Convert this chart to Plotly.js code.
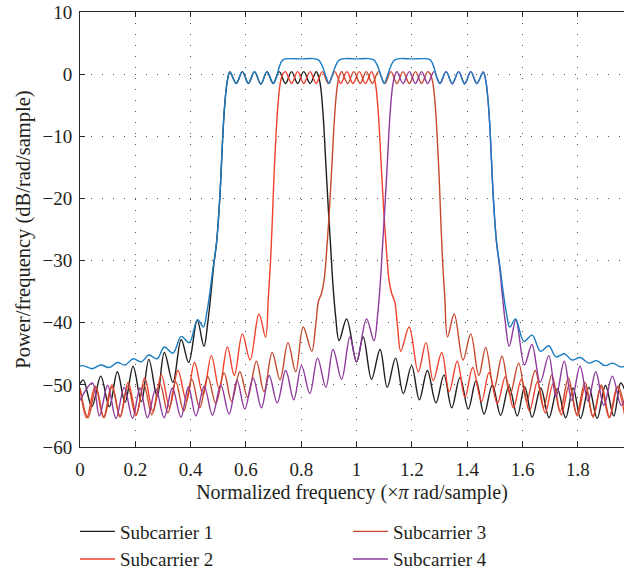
<!DOCTYPE html>
<html>
<head>
<meta charset="utf-8">
<script src="https://cdn.plot.ly/plotly-3.0.1.min.js"></script>
<style>html,body{margin:0;padding:0;background:#fff;}#chart{width:624px;height:574px;}</style>
</head>
<body>
<div id="chart"></div>
<script>
// ---- data ----
var seriesNames = ['Subcarrier 1', 'Subcarrier 2', 'Subcarrier 3', 'Subcarrier 4'];

var sc1X = [0, 0.012, 0.043, 0.075, 0.106, 0.135, 0.163, 0.192, 0.222, 0.249, 0.279, 0.305, 0.336, 0.366, 0.393, 0.424, 0.448, 0.462, 0.473, 0.483, 0.494, 0.505, 0.512, 0.518, 0.525, 0.533, 0.542, 0.565, 0.587, 0.609, 0.631, 0.654, 0.676, 0.698, 0.72, 0.743, 0.765, 0.787, 0.809, 0.832, 0.854, 0.862, 0.870, 0.879, 0.889, 0.899, 0.907, 0.914, 0.924, 0.937, 0.964, 1.0, 1.024, 1.054, 1.085, 1.111, 1.141, 1.169, 1.199, 1.227, 1.256, 1.287, 1.316, 1.344, 1.374, 1.404, 1.432, 1.461, 1.491, 1.521, 1.551, 1.581, 1.608, 1.635, 1.666, 1.696, 1.726, 1.756, 1.783, 1.81, 1.84, 1.87, 1.90, 1.93, 1.955, 1.975];
var sc1Y = [-49.8, -49.2, -53.5, -48.6, -53.5, -47.9, -52.8, -47.0, -52.7, -45.9, -51.9, -44.8, -49.6, -42.7, -46.4, -39.6, -43.8, -40.0, -35.5, -31.0, -27.0, -20.3, -14.0, -8.5, -4.0, -1.0, 0.35, -1.5, 0.4, -1.5, 0.4, -1.6, 0.4, -1.5, 0.4, -1.5, 0.4, -1.5, 0.4, -1.5, 0.4, -0.3, -2.0, -6.5, -14.5, -22.5, -28.3, -33.5, -38.8, -42.9, -39.4, -46.3, -42.3, -49.1, -44.3, -50.4, -45.7, -51.4, -46.9, -52.4, -47.7, -52.9, -48.4, -53.7, -48.8, -53.9, -49.3, -54.7, -50.0, -54.9, -50.2, -55.0, -50.3, -55.2, -50.5, -55.3, -50.6, -55.3, -50.5, -55.4, -50.4, -55.4, -50.1, -55.0, -49.7, -51.5];

var sc2X = [0, 0.024, 0.055, 0.085, 0.115, 0.145, 0.174, 0.204, 0.234, 0.264, 0.294, 0.324, 0.354, 0.385, 0.414, 0.445, 0.475, 0.503, 0.533, 0.558, 0.587, 0.615, 0.647, 0.671, 0.681, 0.689, 0.695, 0.701, 0.709, 0.717, 0.725, 0.733, 0.743, 0.765, 0.787, 0.809, 0.832, 0.854, 0.876, 0.898, 0.921, 0.943, 0.965, 0.987, 1.01, 1.032, 1.054, 1.062, 1.070, 1.079, 1.089, 1.099, 1.109, 1.117, 1.127, 1.138, 1.148, 1.160, 1.19, 1.223, 1.251, 1.277, 1.308, 1.335, 1.364, 1.392, 1.42, 1.452, 1.479, 1.509, 1.538, 1.567, 1.596, 1.625, 1.654, 1.682, 1.711, 1.74, 1.769, 1.798, 1.827, 1.855, 1.884, 1.913, 1.942, 1.971];
var sc2Y = [-50.5, -55.3, -50.2, -55.2, -50.0, -55.0, -49.6, -54.7, -48.9, -54.3, -48.4, -53.6, -47.7, -52.6, -46.4, -51.6, -45.3, -50.6, -43.9, -48.5, -41.8, -46.0, -38.6, -42.3, -36.0, -30.0, -24.0, -17.0, -9.6, -4.2, -1.2, 0.0, 0.4, -1.5, 0.4, -1.5, 0.4, -1.5, 0.4, -1.5, 0.4, -1.5, 0.4, -1.5, 0.4, -1.5, 0.4, -0.3, -2.0, -6.5, -14.5, -22.5, -29.0, -33.0, -35.3, -36.6, -40.5, -44.6, -40.7, -47.9, -43.2, -49.3, -44.8, -51.1, -46.2, -52.0, -47.2, -52.7, -48.0, -53.0, -48.7, -53.7, -49.1, -54.2, -49.5, -54.5, -49.8, -54.8, -50.0, -55.0, -50.2, -55.2, -50.3, -55.3, -50.4, -55.3];

var sc3X = [0, 0.029, 0.058, 0.087, 0.116, 0.145, 0.173, 0.202, 0.231, 0.26, 0.289, 0.318, 0.346, 0.375, 0.404, 0.433, 0.462, 0.491, 0.521, 0.548, 0.578, 0.606, 0.638, 0.665, 0.695, 0.723, 0.752, 0.78, 0.807, 0.838, 0.852, 0.862, 0.873, 0.883, 0.891, 0.901, 0.911, 0.921, 0.930, 0.938, 0.946, 0.968, 0.99, 1.013, 1.035, 1.057, 1.079, 1.102, 1.124, 1.146, 1.168, 1.191, 1.213, 1.235, 1.257, 1.267, 1.275, 1.283, 1.291, 1.299, 1.305, 1.311, 1.319, 1.329, 1.353, 1.385, 1.413, 1.442, 1.467, 1.497, 1.526, 1.555, 1.586, 1.615, 1.646, 1.676, 1.706, 1.736, 1.766, 1.796, 1.826, 1.855, 1.885, 1.915, 1.945, 1.976];
var sc3Y = [-50.5, -55.3, -50.4, -55.3, -50.3, -55.2, -50.2, -55.0, -50.0, -54.8, -49.8, -54.5, -49.5, -54.2, -49.1, -53.7, -48.7, -53.0, -48.1, -52.7, -47.9, -52.0, -46.2, -51.1, -44.8, -49.2, -43.2, -47.9, -40.7, -44.6, -40.5, -36.6, -35.3, -33.0, -29.0, -22.5, -14.5, -6.5, -2.0, -0.3, 0.4, -1.5, 0.4, -1.5, 0.4, -1.5, 0.4, -1.5, 0.4, -1.5, 0.4, -1.5, 0.4, -1.5, 0.4, 0.0, -1.2, -4.2, -9.6, -17.0, -24.0, -30.0, -36.0, -42.3, -38.6, -46.0, -41.8, -48.5, -44.0, -50.6, -45.4, -51.6, -46.5, -52.6, -47.7, -53.6, -48.4, -54.3, -48.9, -54.7, -49.6, -55.0, -50.0, -55.2, -50.2, -55.3];

var sc4X = [0, 0.045, 0.07, 0.10, 0.13, 0.16, 0.19, 0.217, 0.244, 0.274, 0.304, 0.334, 0.365, 0.392, 0.419, 0.449, 0.479, 0.509, 0.539, 0.568, 0.596, 0.626, 0.656, 0.684, 0.713, 0.744, 0.773, 0.801, 0.831, 0.859, 0.889, 0.915, 0.946, 0.976, 1.0, 1.036, 1.063, 1.076, 1.086, 1.093, 1.101, 1.111, 1.121, 1.130, 1.138, 1.146, 1.168, 1.191, 1.213, 1.235, 1.257, 1.28, 1.302, 1.324, 1.346, 1.369, 1.391, 1.413, 1.435, 1.458, 1.467, 1.475, 1.482, 1.488, 1.495, 1.506, 1.517, 1.527, 1.538, 1.552, 1.576, 1.607, 1.634, 1.664, 1.695, 1.721, 1.751, 1.778, 1.808, 1.837, 1.865, 1.894, 1.925, 1.957, 1.988];
var sc4Y = [-52.5, -49.7, -55.0, -50.1, -55.4, -50.4, -55.4, -50.5, -55.3, -50.6, -55.3, -50.5, -55.2, -50.3, -55.0, -50.2, -54.9, -50.0, -54.7, -49.3, -53.9, -48.9, -53.7, -48.5, -52.9, -47.7, -52.4, -46.9, -51.4, -45.7, -50.4, -44.3, -49.1, -42.3, -46.3, -39.4, -42.9, -38.8, -33.5, -28.3, -22.5, -14.5, -6.5, -2.0, -0.3, 0.4, -1.5, 0.4, -1.5, 0.4, -1.5, 0.4, -1.5, 0.4, -1.6, 0.4, -1.5, 0.4, -1.5, 0.35, -1.0, -4.0, -8.5, -14.0, -20.3, -27.0, -31.0, -35.5, -40.0, -43.8, -39.6, -46.8, -43.5, -49.6, -45.3, -51.9, -46.2, -52.5, -47.0, -52.6, -47.9, -53.3, -48.6, -53.3, -49.2];

var sumX = [0, 0.012, 0.043, 0.075, 0.106, 0.135, 0.163, 0.192, 0.222, 0.249, 0.279, 0.305, 0.336, 0.366, 0.395, 0.425, 0.446, 0.458, 0.47, 0.48, 0.494, 0.505, 0.512, 0.518, 0.525, 0.533, 0.542, 0.565, 0.587, 0.609, 0.631, 0.654, 0.676, 0.699, 0.709, 0.717, 0.725, 0.735, 0.76, 0.8, 0.84, 0.862, 0.872, 0.882, 0.891, 0.9, 0.909, 0.918, 0.928, 0.938, 0.96, 1.0, 1.04, 1.062, 1.072, 1.082, 1.091, 1.1, 1.109, 1.118, 1.128, 1.138, 1.16, 1.2, 1.24, 1.265, 1.275, 1.283, 1.291, 1.301, 1.324, 1.346, 1.369, 1.391, 1.413, 1.435, 1.458, 1.467, 1.475, 1.482, 1.488, 1.495, 1.506, 1.52, 1.53, 1.542, 1.554, 1.575, 1.605, 1.635, 1.665, 1.695, 1.721, 1.751, 1.779, 1.808, 1.84, 1.868, 1.898, 1.926, 1.955, 1.985];
var sumY = [-47.0, -46.9, -47.4, -46.8, -47.2, -46.4, -46.8, -45.8, -46.3, -45.2, -45.8, -43.9, -44.9, -42.2, -43.2, -39.5, -40.7, -38.5, -35.0, -31.5, -27.0, -20.3, -14.0, -8.5, -4.0, -1.0, 0.35, -1.5, 0.4, -1.5, 0.4, -1.6, 0.4, -1.5, -0.7, 0.6, 1.7, 2.35, 2.5, 2.45, 2.5, 2.3, 1.7, 0.6, -0.6, -1.5, -0.6, 0.6, 1.7, 2.3, 2.5, 2.45, 2.5, 2.3, 1.7, 0.6, -0.6, -1.5, -0.6, 0.6, 1.7, 2.3, 2.5, 2.45, 2.5, 2.35, 1.7, 0.6, -0.7, -1.5, 0.4, -1.5, 0.4, -1.6, 0.4, -1.5, 0.35, -1.0, -4.0, -8.5, -14.0, -20.3, -27.0, -31.5, -35.0, -38.5, -40.7, -39.4, -43.0, -42.0, -44.6, -43.7, -45.5, -45.0, -46.0, -45.6, -46.5, -46.1, -46.9, -46.5, -47.1, -46.8];

var xTickVals = [0, 0.2, 0.4, 0.6, 0.8, 1, 1.2, 1.4, 1.6, 1.8];
var xTickText = ['0', '0.2', '0.4', '0.6', '0.8', '1', '1.2', '1.4', '1.6', '1.8'];
var yTickVals = [-60, -50, -40, -30, -20, -10, 0, 10];
var yTickText = ['\u221260', '\u221250', '\u221240', '\u221230', '\u221220', '\u221210', '0', '10'];

// ---- styling ----
var colors = ['#1e1e1e', '#f0412c', '#c5482c', '#8d3a9c'];
var sumColor = '#1a7cc1';
var FONT = 'Liberation Serif, Times New Roman, serif';
var TXT = '#231f20';

function trace(x, y, name, color, rank, show) {
  return {
    type: 'scatter', mode: 'lines', x: x, y: y, name: name,
    line: {color: color, width: 1.4, shape: 'spline', smoothing: 1},
    showlegend: show, legendrank: rank, hoverinfo: 'skip'
  };
}

var data = [
  trace(sc1X, sc1Y, seriesNames[0], colors[0], 1, true),
  trace(sc2X, sc2Y, seriesNames[1], colors[1], 3, true),
  trace(sc3X, sc3Y, seriesNames[2], colors[2], 2, true),
  trace(sc4X, sc4Y, seriesNames[3], colors[3], 4, true),
  trace(sumX, sumY, 'Sum', sumColor, 5, false)
];

var layout = {
  width: 624, height: 574,
  margin: {l: 80, r: 0, t: 12, b: 127, pad: 0, autoexpand: false},
  paper_bgcolor: '#ffffff', plot_bgcolor: '#ffffff',
  font: {family: FONT, size: 19, color: TXT},
  showlegend: true,
  xaxis: {
    range: [0, 1.967], tickmode: 'array', tickvals: xTickVals, ticktext: xTickText,
    ticks: 'inside', ticklen: 5, tickwidth: 1, tickcolor: '#262626',
    showline: true, linecolor: '#262626', linewidth: 1, mirror: 'ticks',
    showgrid: true, gridcolor: '#555555', gridwidth: 1, griddash: '1px,10px',
    zeroline: false, ticklabelstandoff: 5,
    tickfont: {family: FONT, size: 19, color: TXT},
    title: {text: 'Normalized frequency (\u00d7<i>\u03c0</i> rad/sample)', font: {family: FONT, size: 20, color: TXT}, standoff: 6}
  },
  yaxis: {
    range: [-60, 10], tickmode: 'array', tickvals: yTickVals, ticktext: yTickText,
    ticks: 'inside', ticklen: 5, tickwidth: 1, tickcolor: '#262626',
    showline: true, linecolor: '#262626', linewidth: 1, mirror: false,
    showgrid: true, gridcolor: '#555555', gridwidth: 1, griddash: '1px,10px',
    zeroline: false, ticklabelstandoff: 3,
    tickfont: {family: FONT, size: 19, color: TXT},
    title: {text: 'Power/frequency (dB/rad/sample)', font: {family: FONT, size: 20.5, color: TXT}, standoff: 6}
  },
  legend: {
    orientation: 'h', x: -0.0092, xanchor: 'left', y: -0.1506, yanchor: 'top',
    entrywidth: 223, entrywidthmode: 'pixels', itemwidth: 35,
    font: {family: FONT, size: 19, color: TXT},
    bgcolor: 'rgba(0,0,0,0)', borderwidth: 0, tracegroupgap: 0
  }
};

Plotly.newPlot('chart', data, layout, {displayModeBar: false, staticPlot: true});
</script>
</body>
</html>
